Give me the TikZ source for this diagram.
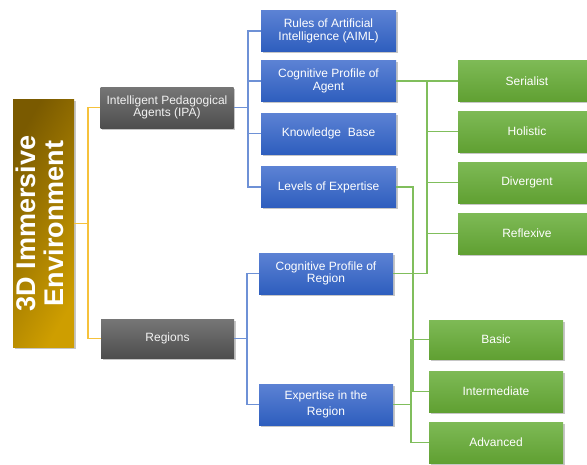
\documentclass[tikz,border=0pt]{standalone}
\usepackage{fontspec}
\setmainfont{Liberation Sans}
\usepackage{xcolor}
\usepackage{tikz}
\usetikzlibrary{shadows,calc}
\definecolor{golddark}{RGB}{122,90,0}
\definecolor{goldlight}{RGB}{206,158,0}
\definecolor{goldline}{RGB}{246,194,60}
\definecolor{graylight}{RGB}{118,118,118}
\definecolor{graydark}{RGB}{78,78,78}
\definecolor{bluelight}{RGB}{92,130,212}
\definecolor{bluedark}{RGB}{46,94,190}
\definecolor{blueline}{RGB}{110,145,214}
\definecolor{greenlight}{RGB}{126,186,86}
\definecolor{greendark}{RGB}{96,160,50}
\definecolor{greenline}{RGB}{128,190,92}
\begin{document}
\begin{tikzpicture}[x=1pt, y=-1pt,
    base/.style={rectangle, inner sep=2pt, text=white, align=center, font=\fontsize{12}{12.5}\selectfont,
                 drop shadow={shadow xshift=1.5pt, shadow yshift=-1.5pt, opacity=0.45}},
    rootbox/.style={base, left color=golddark, right color=goldlight, shading angle=60,
                    minimum width=61pt, minimum height=248pt, font=\bfseries\fontsize{27}{27}\selectfont},
    graybox/.style={base, top color=graylight, bottom color=graydark, text=white!90!gray,
                    minimum width=133pt, minimum height=41pt},
    bluebox/.style={base, top color=bluelight, bottom color=bluedark, minimum width=135pt, minimum height=41pt},
    greenbox/.style={base, top color=greenlight, bottom color=greendark, minimum width=134pt, minimum height=41pt},
    yline/.style={draw=goldline, line width=1.1pt},
    bline/.style={draw=blueline, line width=1.1pt},
    gline/.style={draw=greenline, line width=1.1pt}
]
\useasboundingbox (0,0) rectangle (587,464);

% root and first level
\node[rootbox] (root) at (43.5,223.5) {\rotatebox{90}{\begin{tabular}{@{}c@{}}3D Immersive\\Environment\end{tabular}}};
\node[graybox] (ipa) at (167,107.5) {Intelligent Pedagogical\\Agents (IPA)};
\node[graybox, minimum height=39pt] (regions) at (167.5,338.5) {Regions};

% second level
\node[bluebox] (rules) at (328.5,31) {Rules of Artificial\\Intelligence (AIML)};
\node[bluebox] (cpa) at (328.5,81) {Cognitive Profile of\\Agent};
\node[bluebox] (kb) at (328.5,133.5) {Knowledge\ \ Base};
\node[bluebox] (loe) at (328.5,187) {Levels of Expertise};
\node[bluebox, minimum width=134pt] (cpr) at (326,273.5) {Cognitive Profile of\\Region};
\node[bluebox, minimum width=134pt] (eir) at (326,404.5) {Expertise in the\\[3pt]Region};

% third level
\node[greenbox, minimum width=138pt] (serialist) at (527,81) {Serialist};
\node[greenbox, minimum width=138pt] (holistic) at (527,131.5) {Holistic};
\node[greenbox, minimum width=138pt] (divergent) at (527,182.5) {Divergent};
\node[greenbox, minimum width=138pt] (reflexive) at (527,233.5) {Reflexive};
\node[greenbox, minimum height=39pt] (basic) at (496,339.5) {Basic};
\node[greenbox] (intermediate) at (496,391.5) {Intermediate};
\node[greenbox] (advanced) at (496,442.5) {Advanced};

% junctions
\coordinate (rootj) at (88,223.5);
\coordinate (ipaj) at (248,107.5);
\coordinate (regj) at (247,338.5);
\coordinate (cogj) at (427,81);
\coordinate (lvlj) at (413,187);
\coordinate (eirj) at (411,404.5);

% connectors
\draw[yline] (root.east) -- (rootj);
\draw[yline] (ipa.west) -| (rootj) |- (regions.west);

\draw[bline] (ipa.east) -- (ipaj);
\draw[bline] (rules.west) -| (ipaj) |- (loe.west);
\draw[bline] (cpa.west) -- (cpa.west -| ipaj);
\draw[bline] (kb.west) -- (kb.west -| ipaj);
\draw[bline] (regions.east) -- (regj);
\draw[bline] (cpr.west) -| (regj) |- (eir.west);

\draw[gline] (cpa.east) -- (cogj) -- (serialist.west);
\draw[gline] (cogj) |- (cpr.east);
\draw[gline] (holistic.west) -- (holistic.west -| cogj);
\draw[gline] (divergent.west) -- (divergent.west -| cogj);
\draw[gline] (reflexive.west) -- (reflexive.west -| cogj);
\draw[gline] (loe.east) -- (lvlj) |- (intermediate.west);
\draw[gline] (eir.east) -- (eirj);
\draw[gline] (basic.west) -| (eirj) |- (advanced.west);
\draw[gline] (intermediate.west) -- (intermediate.west -| eirj);

\end{tikzpicture}
\end{document}
